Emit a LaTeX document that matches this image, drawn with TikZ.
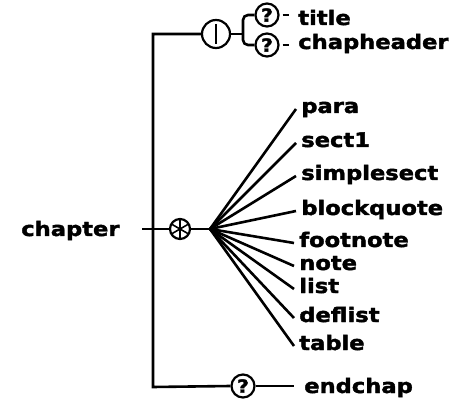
\documentclass[tikz,border=0pt]{standalone}
\usepackage{fontspec}
\setmainfont{DejaVu Sans}[FakeStretch=1.13, FakeBold=2]
\usepackage{tikz}
\usetikzlibrary{positioning}
\tikzset{x=1pt, y=-1pt, % Pixel-like coordinates, y downwards
every path/.style={line width=2.6pt},
elem/.style={ % Sets the properties for each element name
inner sep=0pt,
anchor=base west,
font=\fontsize{20}{20}\selectfont\bfseries},
occur/.style={ % Circle for ? | *
draw,
circle,
line width=2.2pt,
inner sep=0pt,
minimum size=23pt,
font=\fontsize{18}{18}\selectfont\bfseries}}

\begin{document}
\begin{tikzpicture}
	\useasboundingbox (0,0) rectangle (466,414);

	\node[elem] (chapter) at (20,236) {chapter};

	% choice group at top
	\node[occur, minimum size=28pt] (choice) at (216,34) {};
	\draw ([yshift=-5pt]choice.north) -- ([yshift=5pt]choice.south);
	\node[occur] (qtitle) at (267,15) {?};
	\node[occur] (qhead) at (267,45) {?};
	\node[elem] (title) at (297,25) {title};
	\node[elem] (chapheader) at (297,49) {chapheader};

	% repeated group
	\node[occur, minimum size=20pt] (star) at (180,229) {};
	\foreach \a in {90,30,150}
		\draw[line width=1.6pt] ([shift={(\a:-2pt)}]star.\a) -- ([shift={(\a:2pt)}]star.\a+180);
	\coordinate (fan) at (210,229);

	\node[elem] (para) at (300,113) {para};
	\node[elem] (sect1) at (300,147) {sect1};
	\node[elem] (simplesect) at (300,180) {simplesect};
	\node[elem] (blockquote) at (300,215) {blockquote};
	\node[elem] (footnote) at (298,247) {footnote};
	\node[elem] (note) at (298,270) {note};
	\node[elem] (list) at (298,293) {list};
	\node[elem] (deflist) at (298,322) {deflist};
	\node[elem] (table) at (298,350) {table};

	% optional end
	\node[occur] (qend) at (243,386) {?};
	\node[elem] (endchap) at (303,393) {endchap};

	% spine
	\coordinate (chin) at (142,229);
	\coordinate (top) at (153,34);
	\coordinate (bot) at (153,387);
	\draw (choice.west) -- (top) -- (bot) -- (qend.west);
	\draw (chin) -- (star.west);
	\draw (star.east) -- (fan);

	% choice branches
	\coordinate (brk) at (243,34);
	\draw (choice.east) -- (brk);
	\draw[rounded corners=5pt] (qtitle.west) -| (brk) |- (qhead.west);
	\draw ([xshift=3pt]qtitle.east) -- ([xshift=-8pt]title.base west |- qtitle.east);
	\draw ([xshift=3pt]qhead.east) -- ([xshift=-8pt]chapheader.base west |- qhead.east);

	% fan of content elements
	\foreach \e in {para,sect1,simplesect,blockquote,footnote,note,list,deflist,table}
		\draw (fan) -- ([xshift=-4pt,yshift=4pt]\e.base west);

	\draw (qend.east) -- ([xshift=-9pt]endchap.base west |- qend.east);
\end{tikzpicture}
\end{document}
